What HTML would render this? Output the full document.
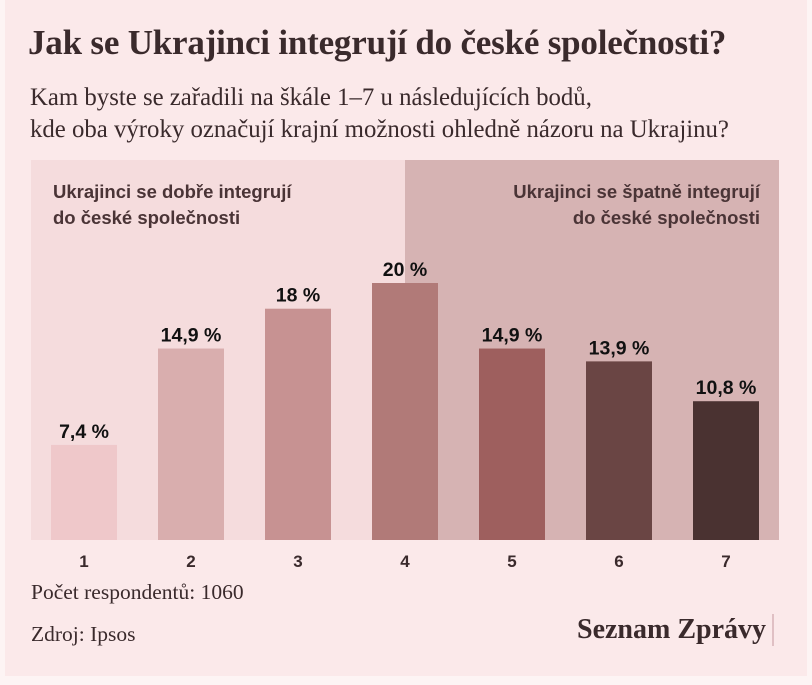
<!DOCTYPE html>
<html><head><meta charset="utf-8"><style>
body{margin:0;width:812px;height:685px;background:#fdf4f4;font-family:"Liberation Sans",sans-serif;overflow:hidden}
#card{position:absolute;left:5px;top:0;width:802px;height:676px;background:#fbe9ea}
h1{position:absolute;left:28px;top:23px;margin:0;font:bold 35px "Liberation Serif",serif;color:#3a2a2c;letter-spacing:-0.2px;white-space:nowrap}
.sub{position:absolute;left:30px;top:82px;font:24.8px/32px "Liberation Serif",serif;color:#3a2a2c;white-space:nowrap}
.foot{position:absolute;font:21.5px "Liberation Serif",serif;color:#3a2a2c}
.logo{position:absolute;right:38px;top:614px;font:bold 28px "Liberation Serif",serif;color:#3a2a2c;border-right:2px solid #e0c0c4;padding-right:6px}
</style></head><body>
<div id="card"></div>
<h1>Jak se Ukrajinci integrují do české společnosti?</h1>
<div class="sub">Kam byste se zařadili na škále 1–7 u následujících bodů,<br>kde oba výroky označují krajní možnosti ohledně názoru na Ukrajinu?</div>
<svg id="chart" width="812" height="685" style="position:absolute;left:0;top:0"></svg>
<div class="foot" style="left:31px;top:580px">Počet respondentů: 1060</div>
<div class="foot" style="left:31px;top:622px">Zdroj: Ipsos</div>
<div class="logo">Seznam Zprávy</div>
<script>
const categories=["1","2","3","4","5","6","7"];
const values=[7.4,14.9,18,20,14.9,13.9,10.8];
const labels=["7,4 %","14,9 %","18 %","20 %","14,9 %","13,9 %","10,8 %"];
const colors=["#efc8ca","#d9aeae","#c79292","#b17a78","#9e5f5e","#6a4544","#4a3231"];
const NS="http://www.w3.org/2000/svg",svg=document.getElementById('chart');
const x0=31,x1=779,y0=160,yb=540,step=107,bw=66;
const y=v=>yb-v*12.85;
const xc=i=>51+i*step+bw/2;
function mk(t,a){const e=document.createElementNS(NS,t);for(const k in a)e.setAttribute(k,a[k]);svg.appendChild(e);return e;}
let r=mk('rect',{x:x0,y:y0,width:405-x0,height:yb-y0,fill:'#f5dcdd'});


r=mk('rect',{x:405,y:y0,width:x1-405,height:yb-y0,fill:'#d6b3b3'});


function txt(s,x,yy,anchor,size,weight,fill,name){const t=mk('text',{x:x,y:yy,'text-anchor':anchor,'font-size':size,'font-weight':weight,fill:fill,'font-family':'Liberation Sans, sans-serif'});t.textContent=s;return t;}
txt("Ukrajinci se dobře integrují",53,198,'start',18.5,'bold','#4a3436','left-annotation');
txt("do české společnosti",53,224,'start',18.5,'bold','#4a3436','left-annotation');
txt("Ukrajinci se špatně integrují",760,198,'end',18.5,'bold','#4a3436','right-annotation');
txt("do české společnosti",760,224,'end',18.5,'bold','#4a3436','right-annotation');
values.forEach((v,i)=>{
 const b=mk('rect',{x:xc(i)-bw/2,y:y(v),width:bw,height:yb-y(v),fill:colors[i]});
 
 
 txt(labels[i],xc(i),y(v)-7,'middle',19.5,'bold','#111','value-label');
 txt(categories[i],xc(i),567,'middle',17,'bold','#3a2a2c','x-tick-label');
});
</script>
</body></html>
